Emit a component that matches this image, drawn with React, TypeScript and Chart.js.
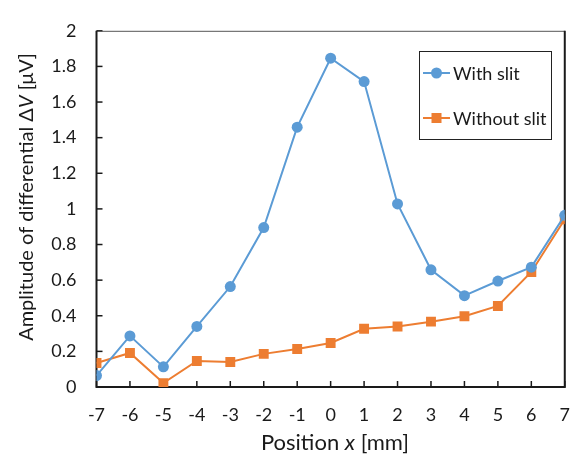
import { useEffect, useRef } from "react";
import { Chart, registerables } from "chart.js";

Chart.register(...registerables);

const positions = [-7, -6, -5, -4, -3, -2, -1, 0, 1, 2, 3, 4, 5, 6, 7];
const withSlit = [0.064, 0.287, 0.113, 0.34, 0.564, 0.895, 1.459, 1.846, 1.715, 1.028, 0.658, 0.513, 0.595, 0.673, 0.964];
const withoutSlit = [0.135, 0.191, 0.022, 0.146, 0.14, 0.186, 0.213, 0.247, 0.327, 0.34, 0.367, 0.397, 0.455, 0.646, 0.942];
const seriesNames = ["With slit", "Without slit"];
const yTickLabels = ["0", "0.2", "0.4", "0.6", "0.8", "1", "1.2", "1.4", "1.6", "1.8", "2"];
const xTickLabels = ["-7", "-6", "-5", "-4", "-3", "-2", "-1", "0", "1", "2", "3", "4", "5", "6", "7"];
const xTitleParts = [
  { text: "Position ", italic: false },
  { text: "x", italic: true },
  { text: " [mm]", italic: false },
];
const yTitleParts = [
  { text: "Amplitude of differential Δ", italic: false },
  { text: "V", italic: true },
  { text: " [μV]", italic: false },
];

const FONT = "Lato, 'Open Sans', sans-serif";
const TEXT = "#1a1a1a";
const BLUE = "#5B9BD5";
const ORANGE = "#ED7D31";

function drawParts(ctx: CanvasRenderingContext2D, parts: { text: string; italic: boolean }[], size: number, cx: number, cy: number) {
  const fontFor = (it: boolean) => `${it ? "italic " : ""}${size}px ${FONT}`;
  let total = 0;
  const widths = parts.map((p) => {
    ctx.font = fontFor(p.italic);
    const w = ctx.measureText(p.text).width;
    total += w;
    return w;
  });
  let x = cx - total / 2;
  ctx.textBaseline = "middle";
  ctx.textAlign = "left";
  ctx.fillStyle = TEXT;
  parts.forEach((p, i) => {
    ctx.font = fontFor(p.italic);
    ctx.fillText(p.text, x, cy);
    x += widths[i];
  });
}

const framePlugin = {
  id: "excelFrame",
  beforeDatasetsDraw(chart: any) {
    const { ctx, chartArea: a, scales } = chart;
    ctx.save();
    ctx.strokeStyle = "#1a1a1a";
    ctx.lineWidth = 1.5;
    positions.forEach((p) => {
      const x = scales.x.getPixelForValue(p);
      ctx.beginPath();
      ctx.moveTo(x, a.bottom);
      ctx.lineTo(x, a.bottom - 6);
      ctx.stroke();
    });
    yTickLabels.forEach((_, i) => {
      const y = scales.y.getPixelForValue(i * 0.2);
      ctx.beginPath();
      ctx.moveTo(a.left, y);
      ctx.lineTo(a.left + 6, y);
      ctx.stroke();
    });
    ctx.strokeStyle = "#555555";
    ctx.lineWidth = 1;
    ctx.beginPath();
    ctx.moveTo(a.left, a.top + 0.5);
    ctx.lineTo(a.right, a.top + 0.5);
    ctx.stroke();
    ctx.strokeStyle = "#1a1a1a";
    ctx.lineWidth = 2;
    ctx.beginPath();
    ctx.moveTo(a.left, a.top);
    ctx.lineTo(a.left, a.bottom);
    ctx.lineTo(a.right, a.bottom);
    ctx.lineTo(a.right, a.top);
    ctx.stroke();
    ctx.restore();
  },
  afterDraw(chart: any) {
    const { ctx, chartArea: a } = chart;
    ctx.save();
    drawParts(ctx, xTitleParts, 22, 335, 443);
    ctx.save();
    ctx.translate(27, 197);
    ctx.rotate(-Math.PI / 2);
    drawParts(ctx, yTitleParts, 20, 0, 0);
    ctx.restore();
    const bx = 419, by = 51, bw = 132, bh = 88;
    ctx.fillStyle = "#ffffff";
    ctx.fillRect(bx, by, bw, bh);
    ctx.strokeStyle = "#222222";
    ctx.lineWidth = 1;
    ctx.strokeRect(bx + 0.5, by + 0.5, bw, bh);
    const rows = [73, 118];
    chart.data.datasets.forEach((ds: any, i: number) => {
      const y = rows[i];
      ctx.strokeStyle = ds.borderColor;
      ctx.lineWidth = 2;
      ctx.beginPath();
      ctx.moveTo(423, y);
      ctx.lineTo(450, y);
      ctx.stroke();
      ctx.fillStyle = ds.backgroundColor;
      if (ds.pointStyle === "rect") {
        ctx.fillRect(436.5 - 5, y - 5, 10, 10);
      } else {
        ctx.beginPath();
        ctx.arc(436.5, y, 5.5, 0, Math.PI * 2);
        ctx.fill();
      }
      ctx.fillStyle = TEXT;
      ctx.font = `18px ${FONT}`;
      ctx.textAlign = "left";
      ctx.textBaseline = "middle";
      ctx.fillText(ds.label, 453, y + 1);
    });
    ctx.restore();
  },
};

export default function App() {
  const ref = useRef<HTMLCanvasElement | null>(null);
  useEffect(() => {
    document.body.style.margin = "0";
    const canvas = ref.current!;
    const chart = new Chart(canvas, {
      type: "line",
      data: {
        datasets: [
          {
            label: seriesNames[0],
            data: positions.map((p, i) => ({ x: p, y: withSlit[i] })),
            borderColor: BLUE,
            backgroundColor: BLUE,
            borderWidth: 2,
            pointStyle: "circle",
            pointRadius: 5.5,
            pointBorderWidth: 0,
            tension: 0,
          },
          {
            label: seriesNames[1],
            data: positions.map((p, i) => ({ x: p, y: withoutSlit[i] })),
            borderColor: ORANGE,
            backgroundColor: ORANGE,
            borderWidth: 2,
            pointStyle: "rect",
            pointRadius: 7,
            pointBorderWidth: 0,
            tension: 0,
          },
        ],
      },
      options: {
        animation: false,
        responsive: false,
        devicePixelRatio: 1,
        layout: { padding: { top: 20, right: 10, left: 0, bottom: 0 } },
        plugins: { legend: { display: false }, tooltip: { enabled: false } },
        scales: {
          x: {
            type: "linear",
            min: -7,
            max: 7,
            grid: { display: false, drawTicks: false },
            border: { display: false },
            ticks: {
              stepSize: 1,
              padding: 17,
              color: TEXT,
              font: { family: FONT, size: 18 },
              callback: (v: any) => xTickLabels[Math.round(Number(v)) + 7] ?? "",
            },
            afterFit: (s: any) => {
              s.height = 72;
            },
          },
          y: {
            min: 0,
            max: 2,
            grid: { display: false, drawTicks: false },
            border: { display: false },
            ticks: {
              stepSize: 0.2,
              padding: 20,
              color: TEXT,
              font: { family: FONT, size: 18 },
              callback: (v: any) => yTickLabels[Math.round(Number(v) / 0.2)] ?? "",
            },
            afterFit: (s: any) => {
              s.width = 96.5;
            },
          },
        },
      },
      plugins: [framePlugin],
    });
    return () => chart.destroy();
  }, []);
  return <canvas ref={ref} width={587} height={459} style={{ display: "block" }} />;
}
